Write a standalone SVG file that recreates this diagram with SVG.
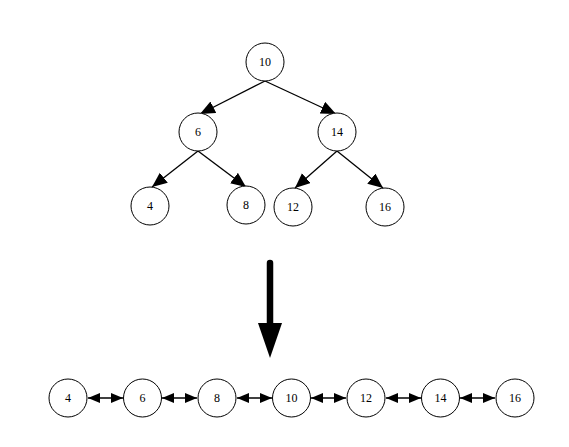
<svg xmlns="http://www.w3.org/2000/svg" width="569" height="447" viewBox="0 0 569 447">
<style>
.n circle{fill:#fff;stroke:#000;stroke-width:1}
.n text{font-family:"Liberation Serif","DejaVu Serif",serif;font-size:12px;text-anchor:middle;dominant-baseline:central;fill:#000}
.e{stroke:#000;stroke-width:1.3;fill:none}
</style>
<defs>
<marker id="ah" markerUnits="userSpaceOnUse" markerWidth="16" markerHeight="14" refX="15" refY="6.5" orient="auto">
<path d="M0,0 L15,6.5 L0,13 Z" fill="#000"/>
</marker>
<marker id="sh" markerUnits="userSpaceOnUse" markerWidth="13" markerHeight="12" refX="12" refY="5" orient="auto-start-reverse">
<path d="M0,0 L12,5 L0,10 Z" fill="#000"/>
</marker>
</defs>
<rect width="569" height="447" fill="#fff"/>
<g id="connectors">
<line class="e" x1="265" y1="81" x2="200" y2="114" marker-end="url(#ah)"/>
<line class="e" x1="265" y1="81" x2="336" y2="114" marker-end="url(#ah)"/>
<line class="e" x1="198" y1="151" x2="152" y2="187" marker-end="url(#ah)"/>
<line class="e" x1="198" y1="151" x2="246" y2="187" marker-end="url(#ah)"/>
<line class="e" x1="337" y1="151" x2="295" y2="188" marker-end="url(#ah)"/>
<line class="e" x1="337" y1="151" x2="383" y2="188" marker-end="url(#ah)"/>
<line x1="270" y1="263" x2="270" y2="326" stroke="#000" stroke-width="6.5" stroke-linecap="round"/>
<path d="M258,323 L282,323 L270,358 Z" fill="#000"/>
<line class="e" x1="88" y1="398" x2="123" y2="398" marker-start="url(#sh)" marker-end="url(#sh)"/>
<line class="e" x1="162" y1="398" x2="197" y2="398" marker-start="url(#sh)" marker-end="url(#sh)"/>
<line class="e" x1="237" y1="398" x2="272" y2="398" marker-start="url(#sh)" marker-end="url(#sh)"/>
<line class="e" x1="311" y1="398" x2="346" y2="398" marker-start="url(#sh)" marker-end="url(#sh)"/>
<line class="e" x1="386" y1="398" x2="421" y2="398" marker-start="url(#sh)" marker-end="url(#sh)"/>
<line class="e" x1="460" y1="398" x2="495" y2="398" marker-start="url(#sh)" marker-end="url(#sh)"/>
</g>
<g id="t10" class="n"><circle cx="265" cy="62" r="19"/><text x="265" y="62">10</text></g>
<g id="t6" class="n"><circle cx="198" cy="132" r="19"/><text x="198" y="132">6</text></g>
<g id="t14" class="n"><circle cx="337" cy="132" r="19"/><text x="337" y="132">14</text></g>
<g id="t4" class="n"><circle cx="150" cy="206" r="19"/><text x="150" y="206">4</text></g>
<g id="t8" class="n"><circle cx="246" cy="205" r="19"/><text x="246" y="205">8</text></g>
<g id="t12" class="n"><circle cx="293" cy="207" r="19"/><text x="293" y="207">12</text></g>
<g id="t16" class="n"><circle cx="385" cy="207" r="19"/><text x="385" y="207">16</text></g>
<g id="l4" class="n"><circle cx="68" cy="398" r="19"/><text x="68" y="398">4</text></g>
<g id="l6" class="n"><circle cx="142.5" cy="398" r="19"/><text x="142.5" y="398">6</text></g>
<g id="l8" class="n"><circle cx="217" cy="398" r="19"/><text x="217" y="398">8</text></g>
<g id="l10" class="n"><circle cx="291.5" cy="398" r="19"/><text x="291.5" y="398">10</text></g>
<g id="l12" class="n"><circle cx="366" cy="398" r="19"/><text x="366" y="398">12</text></g>
<g id="l14" class="n"><circle cx="440.5" cy="398" r="19"/><text x="440.5" y="398">14</text></g>
<g id="l16" class="n"><circle cx="515" cy="398" r="19"/><text x="515" y="398">16</text></g>
</svg>
